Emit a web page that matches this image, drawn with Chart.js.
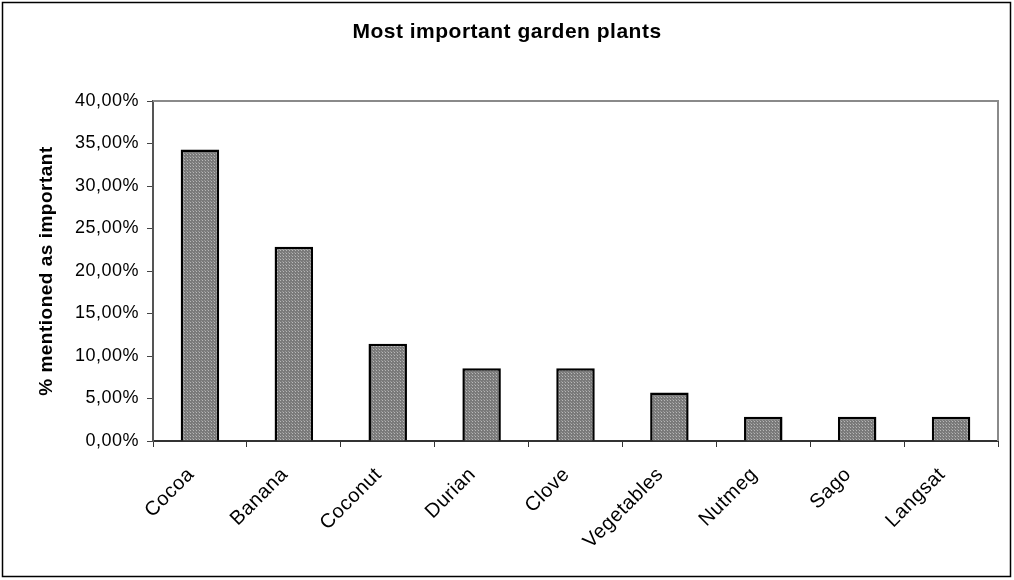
<!DOCTYPE html>
<html lang="en">
<head>
  <meta charset="UTF-8">
  <title>Most important garden plants</title>
  <script src="https://cdn.jsdelivr.net/npm/chart.js"></script>
  <style>
    body { margin: 0; background: #ffffff; }
    .chart-container { position: relative; width: 1014px; height: 580px; }
  </style>
</head>
<body>
  <div class="chart-container">
    <canvas id="plantsChart" width="1014" height="580"></canvas>
  </div>

  <script>
    // Survey answers: share of respondents naming each plant
    const plants = ['Cocoa', 'Banana', 'Coconut', 'Durian', 'Clove', 'Vegetables', 'Nutmeg', 'Sago', 'Langsat'];
    const sharePercent = [34.29, 22.86, 11.43, 8.57, 8.57, 5.71, 2.86, 2.86, 2.86];
    const yTicks = [0, 5, 10, 15, 20, 25, 30, 35, 40];

    const FONT = 'Arial, "Liberation Sans", sans-serif';

    // Small dithered grey tile for the bar fill
    function makeHatch() {
      const c = document.createElement('canvas');
      c.width = 3; c.height = 3;
      const g = c.getContext('2d');
      g.fillStyle = '#7a7a7a';
      g.fillRect(0, 0, 3, 3);
      g.fillStyle = '#b8b8b8';
      g.fillRect(1, 1, 1, 1);
      g.fillStyle = '#9a9a9a';
      g.fillRect(0, 0, 1, 1);
      return g.createPattern(c, 'repeat');
    }

    // Slightly wider text, title centred on the whole canvas, outer frame and grey plot edges
    const framePlugin = {
      id: 'frame',
      afterLayout(chart) {
        const t = chart.titleBlock;
        if (t) { t.left = 0; t.right = chart.width; t.width = chart.width; }
      },
      beforeDraw(chart) {
        chart.ctx.letterSpacing = '0.5px';
      },
      afterDraw(chart) {
        const { ctx, chartArea } = chart;
        ctx.save();
        ctx.strokeStyle = '#000000';
        ctx.lineWidth = 1.5;
        ctx.strokeRect(2.5, 2.5, 1008, 574);
        ctx.strokeStyle = '#8a8a8a';
        ctx.lineWidth = 2;
        ctx.beginPath();
        ctx.moveTo(chartArea.left, chartArea.top);
        ctx.lineTo(chartArea.right, chartArea.top);
        ctx.lineTo(chartArea.right, chartArea.bottom);
        ctx.stroke();
        ctx.restore();
      }
    };

    const ctx = document.getElementById('plantsChart').getContext('2d');

    new Chart(ctx, {
      type: 'bar',
      data: {
        labels: plants,
        datasets: [{
          data: sharePercent,
          backgroundColor: makeHatch(),
          borderColor: '#000000',
          borderWidth: 2.5,
          categoryPercentage: 1,
          barPercentage: 0.41
        }]
      },
      options: {
        responsive: false,
        animation: false,
        layout: { padding: { left: 0, right: 16, top: 0, bottom: 0 } },
        plugins: {
          legend: { display: false },
          tooltip: { enabled: false },
          title: {
            display: true,
            text: 'Most important garden plants',
            color: '#000000',
            font: { family: FONT, size: 21, weight: 'bold' },
            padding: { top: 19.5, bottom: 56.3 }
          }
        },
        scales: {
          x: {
            grid: { display: true, drawOnChartArea: false, tickLength: 6, color: '#333333', offset: true },
            border: { color: '#333333', width: 2 },
            ticks: {
              color: '#000000',
              font: { family: FONT, size: 20 },
              minRotation: 45,
              maxRotation: 45,
              padding: 16,
              labelOffset: -9
            },
            afterFit(scale) { scale.height = 139; }
          },
          y: {
            min: 0,
            max: 40,
            afterBuildTicks(scale) { scale.ticks = yTicks.map(v => ({ value: v })); },
            grid: { display: true, drawOnChartArea: false, tickLength: 6, color: '#444444' },
            border: { color: '#555555', width: 2 },
            ticks: {
              color: '#000000',
              font: { family: FONT, size: 18 },
              padding: 8,
              callback: v => v.toFixed(2).replace('.', ',') + '%'
            },
            title: {
              display: true,
              text: '% mentioned as important',
              color: '#000000',
              font: { family: FONT, size: 19, weight: 'bold' },
              padding: { top: 35.6, bottom: 0 }
            },
            afterFit(scale) { scale.width = 153; }
          }
        }
      },
      plugins: [framePlugin]
    });
  </script>
</body>
</html>
